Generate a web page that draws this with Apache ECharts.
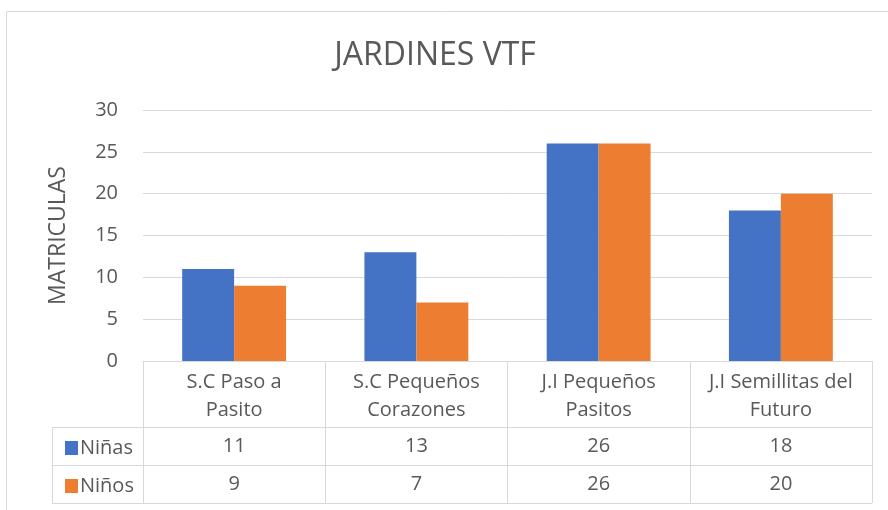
<!DOCTYPE html>
<html><head><meta charset="utf-8">
<script src="https://cdn.jsdelivr.net/npm/echarts@6/dist/echarts.min.js"></script>
<style>html,body{margin:0;padding:0;background:#fff}#c{width:888px;height:510px}</style>
</head><body><div id="c"></div>
<script>
const categories = ['S.C Paso a\nPasito', 'S.C Pequeños\nCorazones', 'J.I Pequeños\nPasitos', 'J.I Semillitas del\nFuturo'];
const ninas = [11, 13, 26, 18];
const ninos = [9, 7, 26, 20];
const yTicks = [0, 5, 10, 15, 20, 25, 30];

const FONT = "'Open Sans', sans-serif";
const GRAY = '#595959';
const LINE = '#d9d9d9';
const G = {left: 143, right: 16, top: 110, bottom: 149};
const W = 888, H = 510;
const axisY = H - G.bottom;      // 361
const row1 = 427, row2 = 465, row3 = 503;
const tableLeft = 52, tableRight = W - G.right;

const chart = echarts.init(document.getElementById('c'));
const rowAxis = (vals, off) => ({
  type: 'category', data: categories, position: 'bottom', offset: off,
  axisLine: {show: false}, axisTick: {show: false}, splitLine: {show: false},
  axisLabel: {interval: 0, margin: 0, verticalAlign: 'middle', fontFamily: FONT, fontSize: 20, color: GRAY,
    formatter: (v, i) => String(vals[i])}
});
const legendItem = (name, top) => ({data: [name], orient: 'vertical', left: 60, top: top, itemWidth: 13, itemHeight: 14, icon: 'rect',
  textStyle: {fontFamily: FONT, fontSize: 20, color: GRAY, padding: [0, 0, 0, -3]}});
chart.setOption({
  animation: false,
  title: {text: 'JARDINES VTF', left: 430, top: 35, textAlign: 'center',
    textStyle: {fontFamily: FONT, fontWeight: 'normal', fontSize: 32, color: GRAY}},
  legend: [legendItem('Niñas', row1 + 6), legendItem('Niños', row2 + 6)],
  grid: {left: G.left, right: G.right, top: G.top, bottom: G.bottom, containLabel: false},
  xAxis: [
    {type: 'category', data: categories, position: 'bottom',
      axisLine: {lineStyle: {color: LINE, width: 1}},
      axisTick: {show: true, length: row3 - axisY, lineStyle: {color: LINE}},
      axisLabel: {interval: 0, margin: 7, fontFamily: FONT, fontSize: 20, color: GRAY, lineHeight: 28}},
    rowAxis(ninas, (row1 + row2) / 2 - axisY),
    rowAxis(ninos, (row2 + row3) / 2 - axisY)
  ],
  yAxis: {type: 'value', min: yTicks[0], max: yTicks[yTicks.length - 1], interval: 5,
    name: 'MATRICULAS', nameLocation: 'middle', nameGap: 73, nameRotate: 90,
    nameTextStyle: {fontFamily: FONT, fontSize: 23, color: GRAY},
    axisLine: {show: false}, axisTick: {show: false},
    axisLabel: {margin: 25, fontFamily: FONT, fontSize: 20, color: GRAY},
    splitLine: {lineStyle: {color: LINE, width: 1}}},
  series: [
    {name: 'Niñas', type: 'bar', data: ninas, itemStyle: {color: '#4472C4'}, barGap: '0%', barCategoryGap: '43%'},
    {name: 'Niños', type: 'bar', data: ninos, itemStyle: {color: '#ED7D31'}, barGap: '0%', barCategoryGap: '43%'}
  ],
  graphic: [
    {type: 'rect', shape: {x: 6.5, y: 11.5, width: W, height: H}, style: {fill: 'none', stroke: LINE, lineWidth: 1}, silent: true},
    {type: 'line', shape: {x1: tableLeft, y1: row1 + 0.5, x2: tableRight, y2: row1 + 0.5}, style: {stroke: LINE, lineWidth: 1}},
    {type: 'line', shape: {x1: tableLeft, y1: row2 + 0.5, x2: tableRight, y2: row2 + 0.5}, style: {stroke: LINE, lineWidth: 1}},
    {type: 'line', shape: {x1: tableLeft, y1: row3 + 0.5, x2: tableRight, y2: row3 + 0.5}, style: {stroke: LINE, lineWidth: 1}},
    {type: 'line', shape: {x1: tableLeft + 0.5, y1: row1, x2: tableLeft + 0.5, y2: row3}, style: {stroke: LINE, lineWidth: 1}}
  ]
});
</script></body></html>
